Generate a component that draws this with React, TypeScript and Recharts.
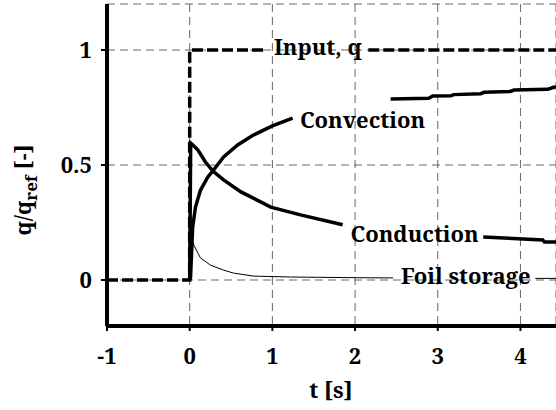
import { LineChart, Line, XAxis, YAxis, CartesianGrid, ReferenceDot } from 'recharts';

const FONT = 'Noto Serif';
const FS = 22;

const xTicks = [-1, 0, 1, 2, 3, 4];
const yTicks = [0, 0.5, 1];

// step input, gap where the label sits
const inputT = [-1, 0, 0, 0.93, 1.5, 2.16, 4.43];
const inputQ = [0, 0, 1, 1, null, 1, 1];

const convT = [0, 0.01, 0.036, 0.07, 0.13, 0.22, 0.28, 0.41, 0.58, 0.77, 1.0, 1.245, 1.8, 2.43, 2.89, 2.94, 3.16, 3.19, 3.52, 3.56, 3.88, 3.92, 4.33, 4.4, 4.43];
const convQ = [0, 0.01, 0.23, 0.317, 0.39, 0.448, 0.474, 0.535, 0.587, 0.63, 0.67, 0.704, null, 0.787, 0.79, 0.8, 0.801, 0.806, 0.81, 0.816, 0.82, 0.826, 0.829, 0.838, 0.839];

const condT = [0, 0.012, 0.03, 0.1, 0.19, 0.28, 0.41, 0.62, 0.98, 1.34, 1.85, 2.7, 3.55, 3.8, 4.27, 4.29, 4.43];
const condQ = [0, 0.595, 0.59, 0.565, 0.513, 0.474, 0.435, 0.383, 0.317, 0.283, 0.24, null, 0.187, 0.183, 0.174, 0.165, 0.165];

const foilT = [0, 0.01, 0.05, 0.13, 0.25, 0.41, 0.53, 0.77, 1.22, 2.0, 2.46, 3.3, 4.18, 4.43];
const foilQ = [0, 0.19, 0.152, 0.096, 0.065, 0.043, 0.03, 0.017, 0.013, 0.01, 0.009, null, 0.007, 0.007];

const labelText = ['Input, q', 'Convection', 'Conduction', 'Foil storage'];
const labelT = [1.55, 2.09, 2.72, 3.34];
const labelQ = [1.013, 0.696, 0.2, 0.017];

const rows = (t: number[], q: (number | null)[]) => t.map((x, i) => ({ x, y: q[i] }));

const tickStyle = { fontFamily: FONT, fontSize: FS, fontWeight: 'bold', fill: '#000' };

function YTitle() {
  return (
    <text
      x={31}
      y={190}
      transform="rotate(-90, 31, 190)"
      textAnchor="middle"
      fontFamily={FONT}
      fontSize={FS}
      fontWeight="bold"
      fill="#000"
    >
      <tspan>q/q</tspan>
      <tspan dy={6} fontSize={17}>ref</tspan>
      <tspan dy={-6}> [-]</tspan>
    </text>
  );
}

function XTitle() {
  return (
    <text x={331} y={398} textAnchor="middle" fontFamily={FONT} fontSize={FS} fontWeight="bold" fill="#000">
      t [s]
    </text>
  );
}

export default function App() {
  return (
    <div style={{ position: 'absolute', left: 0, top: 0, background: '#fff' }}>
      <LineChart width={556} height={410} margin={{ top: 4, right: 0, bottom: 0, left: 0 }}>
        <CartesianGrid stroke="#666" strokeWidth={1} strokeDasharray="8 5" />
        <XAxis
          dataKey="x"
          type="number"
          domain={[-1, 4.43]}
          ticks={xTicks}
          allowDataOverflow
          height={84}
          tick={tickStyle}
          tickSize={5}
          tickMargin={17}
          axisLine={{ stroke: '#000', strokeWidth: 4 }}
          tickLine={{ stroke: '#000', strokeWidth: 2 }}
          label={<XTitle />}
        />
        <YAxis
          type="number"
          domain={[-0.2, 1.2]}
          ticks={yTicks}
          allowDataOverflow
          width={107}
          tick={tickStyle}
          tickSize={6}
          tickMargin={9}
          axisLine={{ stroke: '#000', strokeWidth: 4 }}
          tickLine={{ stroke: '#000', strokeWidth: 2 }}
          label={<YTitle />}
        />
        <Line data={rows(foilT, foilQ)} dataKey="y" type="linear" stroke="#000" strokeWidth={1} dot={false} isAnimationActive={false} />
        <Line data={rows(condT, condQ)} dataKey="y" type="linear" stroke="#000" strokeWidth={3.5} dot={false} isAnimationActive={false} />
        <Line data={rows(convT, convQ)} dataKey="y" type="linear" stroke="#000" strokeWidth={3.5} dot={false} isAnimationActive={false} />
        <Line data={rows(inputT, inputQ)} dataKey="y" type="linear" stroke="#000" strokeWidth={3.5} strokeDasharray="11 4" dot={false} isAnimationActive={false} />
        {labelText.map((s, i) => (
          <ReferenceDot
            key={s}
            x={labelT[i]}
            y={labelQ[i]}
            r={0}
            fill="none"
            stroke="none"
            label={{ value: s, position: 'center', fontFamily: FONT, fontSize: FS, fontWeight: 'bold', fill: '#000' }}
          />
        ))}
      </LineChart>
    </div>
  );
}
